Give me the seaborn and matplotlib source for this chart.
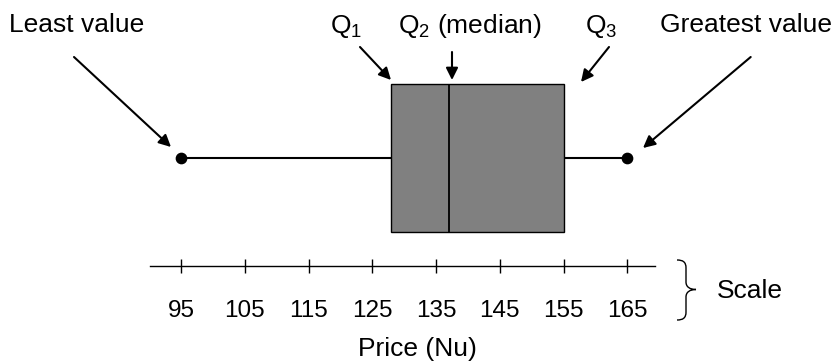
import numpy as np
import matplotlib
matplotlib.use("Agg")
import matplotlib.pyplot as plt
from matplotlib import transforms
from matplotlib.path import Path
from matplotlib.patches import PathPatch
import seaborn as sns

# Five-number summary of the prices (Nu)
prices = [95, 128, 137, 155, 165]
least_value = min(prices)
greatest_value = max(prices)

scale_ticks = [95, 105, 115, 125, 135, 145, 155, 165]
scale_labels = [str(t) for t in scale_ticks]
axis_label = "Price (Nu)"

W, H = 835, 362
DPI = 100

sns.set_style("white")
plt.rcParams["font.family"] = ["Liberation Sans", "DejaVu Sans"]
plt.rcParams["mathtext.fontset"] = "custom"
plt.rcParams["mathtext.rm"] = "Liberation Sans"
plt.rcParams["mathtext.it"] = "Liberation Sans:italic"

LABEL_SIZE = 19
TICK_SIZE = 17.5

fig = plt.figure(figsize=(W / DPI, H / DPI), dpi=DPI)
fig.patch.set_facecolor("white")

XLIM = (66.61, 197.57)

# Box-and-whisker drawing
ax = fig.add_axes([0, 0, 1, 1])
sns.boxplot(
    x=prices, ax=ax, orient="h", whis=np.inf, width=1.0,
    color="#808080", saturation=1, linecolor="black", linewidth=1.0,
    showcaps=False,
    boxprops=dict(edgecolor="black", linewidth=1.0),
    whiskerprops=dict(color="black", linewidth=1.5),
    medianprops=dict(color="black", linewidth=1.3),
)
ax.scatter([least_value, greatest_value], [0, 0], s=55, color="black", zorder=5)
ax.set_xlim(*XLIM)
ax.set_ylim(1.3822, -1.0687)
ax.axis("off")

# Number line underneath
line_y = (H - 265.7) / H
ax2 = fig.add_axes([0, line_y, 1, 0.01])
ax2.set_xlim(*XLIM)
ax2.patch.set_visible(False)
for side in ("left", "right", "top"):
    ax2.spines[side].set_visible(False)
ax2.spines["bottom"].set_bounds(90.14, 169.34)
ax2.spines["bottom"].set_linewidth(1.0)
ax2.spines["bottom"].set_color("black")
ax2.set_yticks([])
ax2.set_xticks(scale_ticks)
ax2.set_xticklabels(scale_labels, fontsize=TICK_SIZE)
ax2.tick_params(axis="x", bottom=True, direction="inout", length=9.4,
                width=1.0, color="black", pad=20.2, labelcolor="black")
ax2.set_xlabel(axis_label, fontsize=LABEL_SIZE, labelpad=10.7, color="black")


def fp(x, y):
    return (x, H - y)


arrow = dict(arrowstyle="-|>", color="black", lw=1.5, mutation_scale=18,
             shrinkA=0, shrinkB=0)

labels = [
    ("Least value", 77, (74, 57), (171, 147)),
    ("Q$_1$", 346, (360, 47), (391, 80)),
    ("Q$_2$ (median)", 469.5, (452, 52), (452, 80)),
    ("Q$_3$", 601, (609, 47), (581, 82)),
    ("Greatest value", 746, (750.7, 57), (643, 148)),
]
for text, cx, start, end in labels:
    fig.text(cx / W, 1 - 32.5 / H, text, ha="center", va="baseline",
             fontsize=LABEL_SIZE, color="black")
    ax.annotate("", xy=fp(*end), xycoords="figure pixels",
                xytext=fp(*start), textcoords="figure pixels",
                arrowprops=arrow)

# Curly brace marking the scale
verts = [
    (677, 260), (683, 260), (686, 262), (686, 268),
    (686, 282),
    (686, 287), (690, 289.5), (696, 289.5),
    (690, 289.5), (686, 292), (686, 297),
    (686, 312),
    (686, 318), (683, 320), (677, 320),
]
codes = [Path.MOVETO, Path.CURVE4, Path.CURVE4, Path.CURVE4,
         Path.LINETO,
         Path.CURVE4, Path.CURVE4, Path.CURVE4,
         Path.CURVE4, Path.CURVE4, Path.CURVE4,
         Path.LINETO,
         Path.CURVE4, Path.CURVE4, Path.CURVE4]
to_px = transforms.Affine2D().scale(1, -1).translate(0, H)
fig.add_artist(PathPatch(Path(verts, codes), facecolor="none",
                         edgecolor="black", lw=1.0, transform=to_px))
fig.text(717 / W, 1 - 298 / H, "Scale", ha="left", va="baseline",
         fontsize=LABEL_SIZE, color="black")

fig.savefig("out.png", dpi=DPI, facecolor="white")
